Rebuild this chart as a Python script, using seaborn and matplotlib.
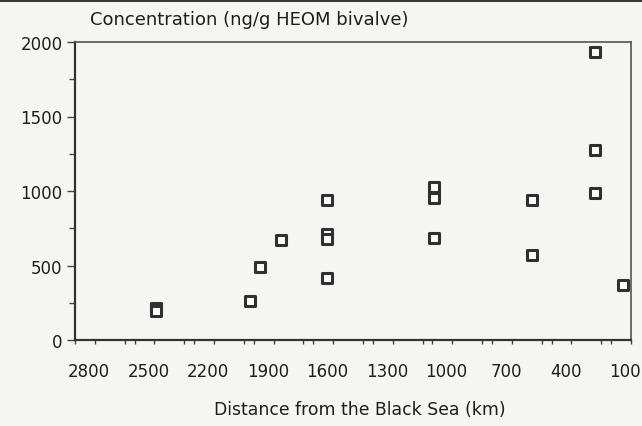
import matplotlib
matplotlib.use("Agg")
import matplotlib.pyplot as plt
import matplotlib.transforms as mtransforms
from matplotlib.patches import Rectangle
import seaborn as sns
import pandas as pd
from matplotlib.ticker import MultipleLocator

distance_km = [2390, 2390, 1920, 1870, 1765, 1530, 1530, 1530, 1530,
               990, 990, 990, 500, 500, 180, 180, 180, 40]
concentration = [215, 195, 264, 492, 671, 942, 710, 680, 415,
                 1025, 953, 685, 942, 570, 1933, 1275, 987, 371]
x_ticks = [2800, 2500, 2200, 1900, 1600, 1300, 1000, 700, 400, 100]
y_ticks = [0, 500, 1000, 1500, 2000]

df = pd.DataFrame({"distance": distance_km, "conc": concentration})

sns.set_style("white")
plt.rcParams['font.family'] = ['DejaVu Sans']
bg = "#f5f5f3"
fig = plt.figure(figsize=(6.42, 4.27), dpi=100, facecolor=bg)
ax = fig.add_axes([75/642, 1 - 341/427, (631-75)/642, (341-43)/427])
ax.set_facecolor(bg)

sns.scatterplot(data=df, x="distance", y="conc", ax=ax, marker="s", s=48,
                facecolor="white", edgecolor="#303030", linewidth=2.2,
                zorder=3, legend=False, clip_on=False)

ax.set_xlim(2800, 0)
ax.set_ylim(0, 2000)
ax.set_xticks(x_ticks)
ax.set_xticklabels([str(t) for t in x_ticks])
ax.xaxis.set_minor_locator(MultipleLocator(150))
ax.set_yticks(y_ticks)
ax.set_yticklabels([str(t) for t in y_ticks])
ax.yaxis.set_minor_locator(MultipleLocator(250))

ax.tick_params(axis="both", which="both", direction="out", color="#444444",
               labelcolor="#1e1e1e", labelsize=12)
ax.tick_params(axis="x", which="both", length=3, width=1, pad=13)
ax.tick_params(axis="y", which="major", length=6, width=1, pad=3)
ax.tick_params(axis="y", which="minor", length=4, width=1)
ax.tick_params(left=True, bottom=True, which="both")

offset = mtransforms.ScaledTranslation(14/100, 0, fig.dpi_scale_trans)
for lbl in ax.get_xticklabels():
    lbl.set_transform(lbl.get_transform() + offset)

for side in ["left", "bottom"]:
    ax.spines[side].set_linewidth(1.6)
    ax.spines[side].set_color("#333333")
for side in ["top", "right"]:
    ax.spines[side].set_linewidth(1.2)
    ax.spines[side].set_color("#555555")

ax.set_xlabel("Distance from the Black Sea (km)", fontsize=12.4, color="#1e1e1e")
ax.xaxis.set_label_coords((360-75)/(631-75), -(401-341)/(341-43))
ax.set_ylabel("")
fig.text(90/642, 1 - 20/427, "Concentration (ng/g HEOM bivalve)", fontsize=13,
         color="#1e1e1e", ha="left", va="center")

fig.add_artist(Rectangle((0, 1 - 3/427), 1, 3/427, transform=fig.transFigure,
                         facecolor="#3a3a3a", edgecolor="none"))

fig.savefig("out.png", dpi=100, facecolor=bg)
